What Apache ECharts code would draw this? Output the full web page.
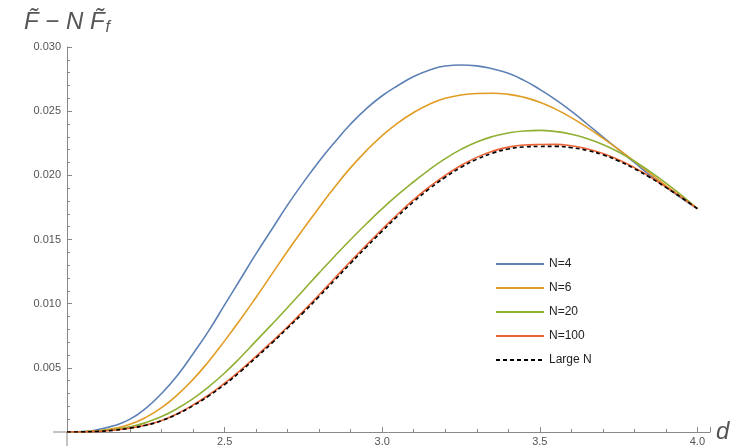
<!DOCTYPE html>
<html>
<head>
<meta charset="utf-8">
<script src="https://cdn.jsdelivr.net/npm/echarts@6/dist/echarts.min.js"></script>
<style>
  html, body { margin: 0; padding: 0; background: #fff; }
  #main { width: 742px; height: 448px; }
</style>
</head>
<body>
<div id="main"></div>
<script>
// d values (x axis), every 0.05
var dValues = [2.00, 2.05, 2.10, 2.15, 2.20, 2.25, 2.30, 2.35, 2.40, 2.45,
               2.50, 2.55, 2.60, 2.65, 2.70, 2.75, 2.80, 2.85, 2.90, 2.95,
               3.00, 3.05, 3.10, 3.15, 3.20, 3.25, 3.30, 3.35, 3.40, 3.45,
               3.50, 3.55, 3.60, 3.65, 3.70, 3.75, 3.80, 3.85, 3.90, 3.95, 4.00];

// curves
var n4 = [0, 0.00003, 0.0002, 0.0005, 0.0010, 0.00185, 0.0030, 0.0044, 0.0061, 0.0079,
          0.0099, 0.0119, 0.0139, 0.0158, 0.0177, 0.01945, 0.0211, 0.0226, 0.0240, 0.0252,
          0.0262, 0.0270, 0.0277, 0.0282, 0.02852, 0.0286, 0.02853, 0.0283, 0.02795, 0.0274,
          0.0267, 0.0259, 0.0250, 0.0240, 0.0230, 0.0220, 0.0210, 0.0200, 0.0191, 0.0182, 0.0174];
var n6 = [0, 0.00002, 0.0001, 0.00028, 0.0006, 0.00114, 0.0019, 0.00289, 0.0041, 0.00552,
          0.0071, 0.00876, 0.0105, 0.0123, 0.0141, 0.01583, 0.0175, 0.01911, 0.0206, 0.02193,
          0.0231, 0.02409, 0.0249, 0.02554, 0.0260, 0.02626, 0.02638, 0.0264, 0.02631, 0.02608,
          0.0257, 0.02516, 0.0245, 0.02374, 0.0229, 0.02202, 0.0211, 0.02015, 0.0192, 0.01829, 0.0174];
var n20 = [0, 0.00002, 0.0001, 0.0002, 0.0004, 0.00073, 0.0012, 0.00183, 0.0026, 0.00353,
           0.0046, 0.00581, 0.0071, 0.00839, 0.0097, 0.01105, 0.0124, 0.01372, 0.0150, 0.01623,
           0.0174, 0.01849, 0.0195, 0.02045, 0.0213, 0.02202, 0.0226, 0.02302, 0.0233, 0.02346,
           0.0235, 0.02341, 0.0232, 0.02286, 0.0224, 0.02181, 0.0211, 0.02029, 0.0194, 0.01844, 0.0174];
var n100 = [0, 0.00001, 0.00005, 0.00014, 0.0003, 0.00054, 0.0009, 0.00143, 0.0021, 0.00289,
            0.0038, 0.00481, 0.0059, 0.00703, 0.0082, 0.00943, 0.0107, 0.0120, 0.0133, 0.01457,
            0.0158, 0.01699, 0.0181, 0.01911, 0.0200, 0.02077, 0.0214, 0.02188, 0.0222, 0.02236,
            0.0224, 0.02241, 0.0223, 0.02206, 0.0217, 0.02121, 0.0206, 0.01989, 0.0191, 0.01828, 0.0174];
var largeN = [0, 0.00001, 0.00005, 0.00014, 0.0003, 0.00053, 0.00088, 0.0014, 0.00205, 0.00282,
              0.0037, 0.0047, 0.0058, 0.00692, 0.0081, 0.0093, 0.01056, 0.01185, 0.01315, 0.01442,
              0.01565, 0.01684, 0.01795, 0.01896, 0.01985, 0.02062, 0.02125, 0.02173, 0.02205, 0.02221,
              0.02225, 0.02226, 0.02216, 0.02194, 0.0216, 0.02112, 0.02052, 0.01983, 0.01906, 0.01826, 0.0174];

var seriesNames = ['N=4', 'N=6', 'N=20', 'N=100', 'Large N'];
var seriesColors = ['#5E81B5', '#E19C24', '#8FB032', '#EB6235', '#000000'];

function pairs(ys) {
  var out = [];
  for (var i = 0; i < dValues.length; i++) out.push([dValues[i], ys[i]]);
  return out;
}

var allData = [n4, n6, n20, n100, largeN];
var series = [];
for (var k = 0; k < allData.length; k++) {
  series.push({
    name: seriesNames[k],
    type: 'line',
    smooth: true,
    showSymbol: false,
    symbol: 'none',
    data: pairs(allData[k]),
    lineStyle: {
      color: seriesColors[k],
      width: 1.6,
      type: k === 4 ? [4, 3] : 'solid'
    },
    itemStyle: { color: seriesColors[k] },
    z: k === 4 ? 10 : 2
  });
}

var axisGray = '#888';
var myChart = echarts.init(document.getElementById('main'));
var option = {
  animation: false,
  grid: { left: 67, right: 32, top: 47, bottom: 16, containLabel: false },
  legend: {
    orient: 'vertical',
    left: 490,
    top: 253,
    itemWidth: 48,
    itemHeight: 14,
    itemGap: 12,
    itemTextGap: 10,
    itemStyle: { opacity: 0 },
    textStyle: { fontFamily: 'Liberation Sans', fontSize: 12, color: '#222' },
    data: seriesNames
  },
  xAxis: {
    type: 'value',
    min: 2.0,
    max: 4.04,
    interval: 0.5,
    name: 'd',
    nameLocation: 'end',
    nameGap: 6,
    nameTextStyle: { fontFamily: 'Liberation Sans', fontStyle: 'italic', fontSize: 24, color: '#555', verticalAlign: 'middle', padding: [0, 0, 4, 0] },
    axisLine: { show: true, lineStyle: { color: axisGray, width: 1 } },
    axisTick: { show: true, inside: true, length: 5, lineStyle: { color: axisGray } },
    minorTick: { show: true, splitNumber: 5, length: 3, lineStyle: { color: axisGray } },
    splitLine: { show: false },
    axisLabel: {
      margin: 4,
      fontFamily: 'Liberation Sans',
      fontSize: 11,
      color: '#555',
      formatter: function (v) {
        if (v < 2.25 || v > 4.01) return '';
        return Math.abs(v * 2 - Math.round(v * 2)) < 1e-6 ? v.toFixed(1) : '';
      }
    }
  },
  yAxis: {
    type: 'value',
    min: 0,
    max: 0.030,
    interval: 0.005,
    name: '{m|F\u0303 \u2212 N F\u0303}{s|f}',
    nameLocation: 'end',
    nameGap: 11,
    nameTextStyle: {
      align: 'center',
      color: '#555',
      rich: {
        m: { fontFamily: 'Liberation Sans', fontStyle: 'italic', fontSize: 24, color: '#555' },
        s: { fontFamily: 'Liberation Sans', fontStyle: 'italic', fontSize: 16, color: '#555', padding: [11, 0, 0, 1] }
      }
    },
    axisLine: { show: true, lineStyle: { color: axisGray, width: 1 } },
    axisTick: { show: true, inside: true, length: 5, lineStyle: { color: axisGray } },
    minorTick: { show: true, splitNumber: 5, length: 3, lineStyle: { color: axisGray } },
    splitLine: { show: false },
    axisLabel: {
      margin: 6,
      fontFamily: 'Liberation Sans',
      fontSize: 11,
      color: '#555',
      formatter: function (v) { return v === 0 ? '' : v.toFixed(3); }
    }
  },
  series: series
};
myChart.setOption(option);

// axes cross a little past the origin, as in the original plot
var o = myChart.convertToPixel({ gridIndex: 0 }, [2.0, 0]);
myChart.setOption({
  graphic: [
    { type: 'line', silent: true, shape: { x1: o[0] - 14, y1: o[1], x2: o[0], y2: o[1] }, style: { stroke: axisGray, lineWidth: 1 } },
    { type: 'line', silent: true, shape: { x1: o[0], y1: o[1], x2: o[0], y2: o[1] + 14 }, style: { stroke: axisGray, lineWidth: 1 } }
  ]
});
</script>
</body>
</html>
